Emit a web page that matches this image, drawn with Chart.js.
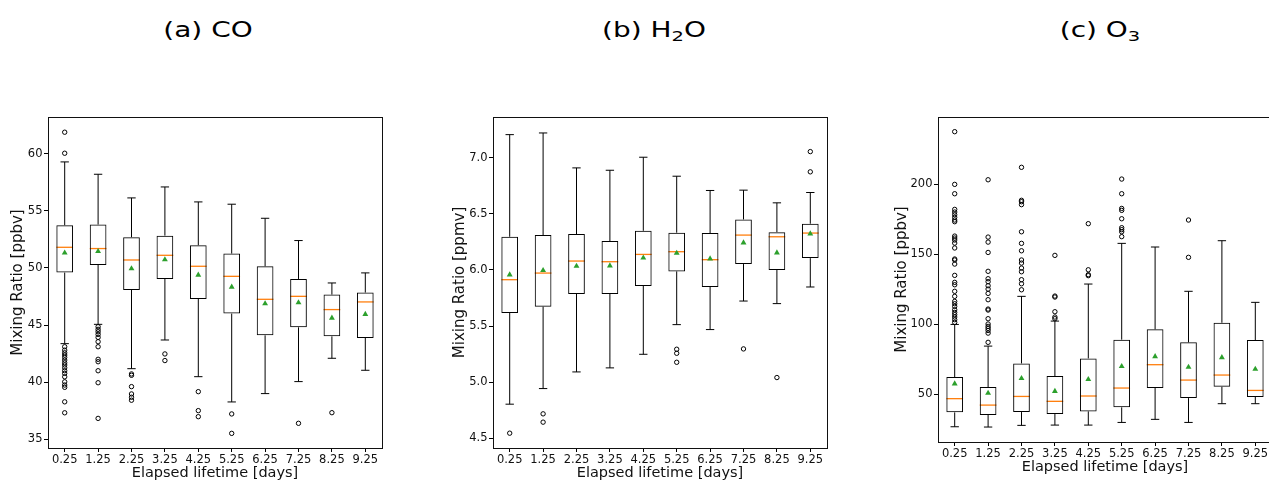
<!DOCTYPE html>
<html><head><meta charset="utf-8">
<script src="https://cdn.jsdelivr.net/npm/chart.js@4.4.0/dist/chart.umd.min.js"></script>
<style>
html,body{margin:0;padding:0;background:#fff;width:1269px;height:482px;overflow:hidden;position:relative;font-family:'DejaVu Sans';}
canvas{position:absolute;top:0;}
.title{position:absolute;top:15px;font-size:21px;line-height:30px;white-space:nowrap;color:#000;transform:translateX(-50%) scaleX(1.33);}
.title sub{font-size:0.7em;vertical-align:-0.25em;line-height:0;}
</style>
</head><body>
<div class="title" style="left:208px">(a) CO</div>
<div class="title" style="left:654px">(b) H<sub>2</sub>O</div>
<div class="title" style="left:1100px">(c) O<sub>3</sub></div>
<canvas id="c1"></canvas>
<canvas id="c2"></canvas>
<canvas id="c3"></canvas>
<script>
const categories = ['0.25','1.25','2.25','3.25','4.25','5.25','6.25','7.25','8.25','9.25'];

// (a) CO [ppbv]
const coLow  = [43.37, 45.06, 41.18, 43.69, 40.48, 38.27, 39.00, 40.05, 42.09, 41.04];
const coQ1   = [49.59, 50.26, 48.07, 49.03, 47.28, 46.00, 44.10, 44.80, 44.01, 43.87];
const coMed  = [51.80, 51.69, 50.69, 51.10, 50.14, 49.26, 47.25, 47.51, 46.35, 47.02];
const coQ3   = [53.73, 53.79, 52.68, 52.82, 51.98, 51.25, 50.14, 49.03, 47.66, 47.84];
const coHigh = [59.27, 58.19, 56.12, 57.08, 55.77, 55.57, 54.34, 52.39, 48.68, 49.56];
const coMean = [51.31, 51.45, 49.94, 50.72, 49.38, 48.33, 46.87, 46.96, 45.62, 45.94];
const coOut  = [
  [61.87, 60.03, 43.1, 42.8, 42.57, 42.37, 42.17, 41.93, 41.7, 41.5, 41.26, 41.0, 40.77, 40.47, 40.03, 39.75, 39.55, 38.28, 37.32],
  [44.85, 44.62, 44.41, 44.18, 43.92, 43.54, 43.1, 42.0, 41.79, 41.0, 39.95, 36.83],
  [40.72, 40.6, 39.61, 38.97, 38.68, 38.42],
  [42.47, 41.89],
  [39.17, 37.51, 36.98],
  [37.22, 35.52],
  [],
  [36.40],
  [37.33],
  []
];
const coTicks = [35, 40, 45, 50, 55, 60];

// (b) H2O [ppmv]
const h2oLow  = [4.805, 4.944, 5.092, 5.128, 5.249, 5.513, 5.469, 5.723, 5.700, 5.848];
const h2oQ1   = [5.617, 5.673, 5.786, 5.786, 5.857, 5.987, 5.848, 6.052, 5.999, 6.105];
const h2oMed  = [5.913, 5.972, 6.079, 6.073, 6.138, 6.162, 6.091, 6.310, 6.295, 6.328];
const h2oQ3   = [6.295, 6.310, 6.319, 6.257, 6.348, 6.331, 6.328, 6.449, 6.336, 6.411];
const h2oHigh = [7.204, 7.219, 6.908, 6.887, 7.003, 6.834, 6.707, 6.710, 6.597, 6.689];
const h2oMean = [5.957, 5.996, 6.034, 6.037, 6.108, 6.150, 6.100, 6.242, 6.153, 6.322];
const h2oOut  = [
  [4.547],
  [4.719, 4.645],
  [], [], [],
  [5.294, 5.258, 5.178],
  [],
  [5.297],
  [5.042],
  [7.053, 6.873]
];
const h2oTicks = [4.5, 5.0, 5.5, 6.0, 6.5, 7.0];

// (c) O3 [ppbv]
const o3Low  = [26.6, 26.4, 27.6, 27.8, 27.8, 29.7, 31.9, 29.7, 43.1, 43.1];
const o3Q1   = [36.9, 35.0, 37.1, 35.7, 37.6, 40.5, 54.3, 47.1, 55.2, 47.9];
const o3Med  = [46.7, 42.1, 48.3, 44.8, 48.6, 54.3, 71.0, 60.0, 63.6, 52.6];
const o3Q3   = [62.2, 55.0, 71.9, 62.9, 75.5, 88.9, 96.3, 87.0, 101.0, 88.6];
const o3High = [99.8, 84.3, 119.9, 102.2, 128.7, 157.8, 155.2, 123.5, 159.7, 115.6];
const o3Mean = [57.4, 50.7, 61.2, 52.0, 60.5, 69.8, 76.9, 69.3, 76.2, 67.9];
const o3Out  = [
  [237.7, 200.0, 193.3, 182.1, 180.2, 178.3, 176.4, 174.5, 173.3, 163.0, 161.6, 160.2, 158.0, 154.5, 146.6, 145.9, 143.0, 134.9, 129.9, 128.2, 123.5, 119.9, 116.3, 114.6, 112.7, 110.3, 108.4, 106.8, 105.1, 103.2, 101.3],
  [203.3, 162.3, 158.7, 151.3, 137.8, 132.5, 130.4, 127.5, 125.1, 122.0, 117.5, 110.8, 110.1, 103.9, 100.1, 98.4, 97.0, 95.5, 93.6, 87.0],
  [212.2, 188.6, 187.6, 185.5, 166.1, 157.8, 152.5, 145.9, 143.7, 140.1, 137.5, 131.8, 128.9, 124.6],
  [149.2, 120.1, 119.4, 108.9, 105.1, 103.9],
  [171.9, 138.9, 135.4, 134.7],
  [203.8, 193.3, 182.8, 181.4, 175.4, 169.0, 167.6, 166.1, 162.6],
  [],
  [174.5, 147.8],
  [],
  []
];
const o3Ticks = [50, 100, 150, 200];

const boxExtras = {
  id: 'boxExtras',
  beforeDatasetsDraw(chart, args, opts) {
    const {ctx, scales: {x, y}} = chart;
    const cw = (x.getPixelForValue(1) - x.getPixelForValue(0));
    ctx.save();
    ctx.lineWidth = 1;
    ctx.strokeStyle = '#000';
    opts.med.forEach((m, i) => {
      const cx = x.getPixelForValue(i);
      const capHalf = cw * 0.125;
      ctx.beginPath();
      ctx.moveTo(cx, y.getPixelForValue(opts.q3[i]));
      ctx.lineTo(cx, y.getPixelForValue(opts.hi[i]));
      ctx.moveTo(cx, y.getPixelForValue(opts.q1[i]));
      ctx.lineTo(cx, y.getPixelForValue(opts.lo[i]));
      ctx.moveTo(cx - capHalf, y.getPixelForValue(opts.hi[i]));
      ctx.lineTo(cx + capHalf, y.getPixelForValue(opts.hi[i]));
      ctx.moveTo(cx - capHalf, y.getPixelForValue(opts.lo[i]));
      ctx.lineTo(cx + capHalf, y.getPixelForValue(opts.lo[i]));
      ctx.stroke();
    });
    ctx.strokeStyle = '#ff7f0e';
    ctx.lineWidth = 1.3;
    opts.med.forEach((m, i) => {
      const cx = x.getPixelForValue(i);
      const py = y.getPixelForValue(m);
      ctx.beginPath();
      ctx.moveTo(cx - cw * 0.25, py);
      ctx.lineTo(cx + cw * 0.25, py);
      ctx.stroke();
    });
    ctx.restore();
  },
  afterDraw(chart) {
    const {ctx, chartArea: a} = chart;
    ctx.save();
    ctx.strokeStyle = '#111';
    ctx.lineWidth = 1;
    ctx.strokeRect(Math.round(a.left) + 0.5, Math.round(a.top) + 0.5, Math.round(a.right - a.left), Math.round(a.bottom - a.top));
    ctx.restore();
  }
};

function makePanel(cfg) {
  const canvasLeft = cfg.L - 60;
  const w = cfg.R - cfg.L + 70;
  const cv = document.getElementById(cfg.id);
  cv.width = w; cv.height = 482;
  cv.style.left = canvasLeft + 'px';
  cv.style.width = w + 'px'; cv.style.height = '482px';
  const outPts = [];
  cfg.out.forEach((arr, i) => arr.forEach(v => outPts.push({x: categories[i], y: v})));
  new Chart(cv, {
    type: 'bar',
    data: {
      labels: categories,
      datasets: [
        {
          type: 'bar',
          data: categories.map((c, i) => [cfg.q1[i], cfg.q3[i]]),
          backgroundColor: 'rgba(0,0,0,0)',
          borderColor: '#000',
          borderWidth: 1,
          borderSkipped: false,
          barPercentage: 0.5,
          categoryPercentage: 1.0,
          order: 3
        },
        {
          type: 'line',
          data: outPts,
          showLine: false,
          pointStyle: 'circle',
          pointRadius: 2.2,
          pointBorderWidth: 1,
          pointBorderColor: '#000',
          pointBackgroundColor: 'rgba(0,0,0,0)',
          order: 2
        },
        {
          type: 'line',
          data: cfg.mean,
          showLine: false,
          pointStyle: 'triangle',
          pointRadius: 3.4,
          pointBorderWidth: 0,
          pointBorderColor: '#2ca02c',
          pointBackgroundColor: '#2ca02c',
          order: 1
        }
      ]
    },
    options: {
      responsive: false,
      animation: false,
      events: [],
      layout: {padding: {top: cfg.T, right: 10, bottom: 0, left: 0}},
      plugins: {
        legend: {display: false},
        tooltip: {enabled: false},
        boxExtras: {q1: cfg.q1, q3: cfg.q3, med: cfg.med, lo: cfg.lo, hi: cfg.hi}
      },
      scales: {
        x: {
          type: 'category',
          offset: true,
          afterFit: s => { s.height = 482 - cfg.B; },
          grid: {display: true, drawOnChartArea: false, drawTicks: true, tickLength: 4, color: '#000', offset: false},
          border: {display: false},
          ticks: {font: {family: 'DejaVu Sans', size: 11.5}, color: '#111', padding: 1, maxRotation: 0, autoSkip: false},
          title: {display: true, text: 'Elapsed lifetime [days]', font: {family: 'DejaVu Sans', size: 14.5, lineHeight: 1}, color: '#111', padding: {top: 0, bottom: cfg.xPad}}
        },
        y: {
          type: 'linear',
          min: cfg.min, max: cfg.max,
          afterFit: s => { s.width = 60; },
          afterBuildTicks: s => { s.ticks = cfg.ticks.map(v => ({value: v})); },
          grid: {display: true, drawOnChartArea: false, drawTicks: true, tickLength: 4, color: '#000'},
          border: {display: false},
          ticks: {font: {family: 'DejaVu Sans', size: 11.5}, color: '#111', padding: 1.5, callback: v => cfg.fmt(v)},
          title: {display: true, text: cfg.ylabel, font: {family: 'DejaVu Sans', size: 15, lineHeight: 1}, color: '#111', padding: {top: cfg.yPad, bottom: 0}}
        }
      }
    },
    plugins: [boxExtras]
  });
}

makePanel({id: 'c1', L: 48, R: 382, T: 117, B: 448, min: 34.24, max: 63.2, ticks: coTicks,
  q1: coQ1, q3: coQ3, med: coMed, lo: coLow, hi: coHigh, mean: coMean, out: coOut,
  ylabel: 'Mixing Ratio [ppbv]', yPad: 22.8, xPad: 2, fmt: v => String(v)});
makePanel({id: 'c2', L: 493, R: 827, T: 117, B: 448, min: 4.415, max: 7.361, ticks: h2oTicks,
  q1: h2oQ1, q3: h2oQ3, med: h2oMed, lo: h2oLow, hi: h2oHigh, mean: h2oMean, out: h2oOut,
  ylabel: 'Mixing Ratio [ppmv]', yPad: 19.5, xPad: 1.75, fmt: v => v.toFixed(1)});
makePanel({id: 'c3', L: 938, R: 1272, T: 117, B: 442, min: 15.7, max: 248.2, ticks: o3Ticks,
  q1: o3Q1, q3: o3Q3, med: o3Med, lo: o3Low, hi: o3High, mean: o3Mean, out: o3Out,
  ylabel: 'Mixing Ratio [ppbv]', yPad: 16.2, xPad: 7.75, fmt: v => String(v)});
</script>
</body></html>
